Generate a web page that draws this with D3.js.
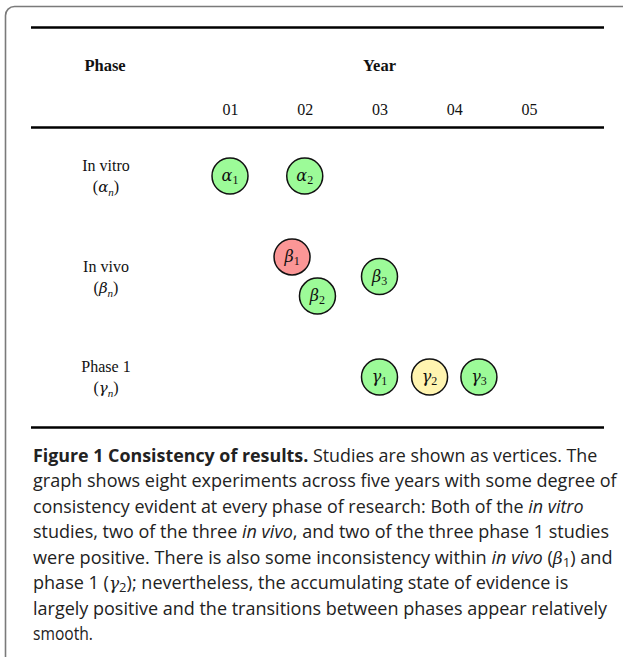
<!DOCTYPE html>
<html>
<head>
<meta charset="utf-8">
<script src="https://cdn.jsdelivr.net/npm/d3@7"></script>
<style>
  body { margin: 0; background: #fff; }
  svg text { fill: #111; }
  .serif { font-family: "Liberation Serif", "DejaVu Serif", serif; }
  .greek { font-family: "DejaVu Serif", "Liberation Serif", serif; font-style: italic; }
  .cap { font-family: "Open Sans", "Noto Sans", sans-serif; font-size: 18px; fill: #222; }
</style>
</head>
<body>
<svg id="fig" width="623" height="657"></svg>
<script>
// years along the top
const years = ["01", "02", "03", "04", "05"];

// phases of research (rows)
const phaseNames = ["In vitro", "In vivo", "Phase 1"];
const phaseSymbols = ["α", "β", "γ"];

// studies: phase row, index, year position, lane offset inside the row, outcome
const studyPhase = [0, 0, 1, 1, 1, 2, 2, 2];
const studyIndex = [1, 2, 1, 2, 3, 1, 2, 3];
const studyYear = [1, 2, 1.83, 2.17, 3, 3, 3.67, 4.33];
const studyLane = [0, 0, -0.2, 0.2, 0, 0, 0, 0];
const studyResult = ["pos", "pos", "neg", "pos", "pos", "pos", "mixed", "pos"];

const resultColor = { pos: "#9cfb98", neg: "#fb9696", mixed: "#fff4b0" };

// caption lines, each a list of [text, style] pieces
const captionLines = [
    [["Figure 1 Consistency of results.", "b"], [" Studies are shown as vertices. The", ""]],
    [["graph shows eight experiments across five years with some degree of", ""]],
    [["consistency evident at every phase of research: Both of the ", ""], ["in vitro", "i"]],
    [["studies, two of the three ", ""], ["in vivo", "i"], [", and two of the three phase 1 studies", ""]],
    [["were positive. There is also some inconsistency within ", ""], ["in vivo", "i"], [" (", ""], ["β", "gi"], ["1", "sub"], [") and", ""]],
    [["phase 1 (", ""], ["γ", "gi"], ["2", "sub"], ["); nevertheless, the accumulating state of evidence is", ""]],
    [["largely positive and the transitions between phases appear relatively", ""]],
    [["smooth.", ""]]
];
const captionWidths = [565, 584, 551, 576, 580, 536, 574, 60];

const svg = d3.select("#fig");

// panel border (runs off the right/bottom edge)
svg.append("rect")
    .attr("x", 5.5).attr("y", 6.5)
    .attr("width", 680).attr("height", 720)
    .attr("rx", 9)
    .attr("fill", "none")
    .attr("stroke", "#7a7a7a")
    .attr("stroke-width", 1.6);

const x = d3.scaleLinear().domain([1, 5]).range([230, 529]);
const y = d3.scalePoint().domain(d3.range(phaseNames.length)).range([176, 377]);
const lane = d3.scaleLinear().domain([-1, 1]).range([-98, 98]);

// horizontal rules
[27.5, 127.5, 427.5].forEach(yy => {
    svg.append("line")
        .attr("x1", 31).attr("x2", 604)
        .attr("y1", yy).attr("y2", yy)
        .attr("stroke", "#000")
        .attr("stroke-width", 2.4);
});

// header
svg.append("text").attr("class", "serif")
    .attr("x", 105).attr("y", 71)
    .attr("text-anchor", "middle")
    .style("font-size", "16.5px").style("font-weight", "bold")
    .text("Phase");
svg.append("text").attr("class", "serif")
    .attr("x", x(3)).attr("y", 71)
    .attr("text-anchor", "middle")
    .style("font-size", "16.5px").style("font-weight", "bold")
    .text("Year");

// year axis labels
const xAxis = d3.axisTop(x)
    .tickValues(d3.range(1, years.length + 1))
    .tickFormat(d => years[d - 1])
    .tickSize(0);
const ax = svg.append("g")
    .attr("transform", "translate(0,110)")
    .call(xAxis);
ax.select(".domain").remove();
ax.selectAll("text")
    .attr("class", "serif")
    .attr("y", 0).attr("dy", "0.33em")
    .style("font-size", "16px")
    .style("fill", "#111");

// row labels
const rows = svg.selectAll(".row")
    .data(phaseNames)
    .enter().append("g")
    .attr("class", "row serif")
    .attr("transform", (d, i) => "translate(106," + y(i) + ")");
rows.append("text")
    .attr("text-anchor", "middle")
    .attr("y", -5)
    .style("font-size", "16px")
    .text(d => d);
const sym = rows.append("text")
    .attr("text-anchor", "middle")
    .attr("y", 16)
    .style("font-size", "16px");
sym.append("tspan").text("(");
sym.append("tspan").attr("class", "greek").style("font-size", "15px").text((d, i) => phaseSymbols[i]);
sym.append("tspan").style("font-style", "italic").style("font-size", "11px")
    .attr("dy", 4).text("n");
sym.append("tspan").attr("dy", -4).text(")");

// study vertices
const studies = studyPhase.map((p, i) => ({
    phase: p, idx: studyIndex[i], year: studyYear[i], lane: studyLane[i], res: studyResult[i]
}));

const nodes = svg.selectAll(".node")
    .data(studies)
    .enter().append("g")
    .attr("class", "node serif")
    .attr("transform", d => "translate(" + x(d.year) + "," + (y(d.phase) + lane(d.lane)) + ")");
nodes.append("circle")
    .attr("r", 18)
    .attr("fill", d => resultColor[d.res])
    .attr("stroke", "#111")
    .attr("stroke-width", 1.5);
const lbl = nodes.append("text")
    .attr("text-anchor", "middle")
    .attr("y", 5)
    .style("font-size", "16px");
lbl.append("tspan").attr("class", "greek").text(d => phaseSymbols[d.phase]);
lbl.append("tspan").style("font-size", "12px").attr("dy", 3).text(d => d.idx);

// caption
captionLines.forEach((parts, li) => {
    const t = svg.append("text")
        .attr("class", "cap")
        .attr("x", 33)
        .attr("y", 462 + li * 25.5);
    parts.forEach(([s, st]) => {
        const sp = t.append("tspan").text(s);
        if (st === "b") sp.style("font-weight", "bold");
        if (st === "i") sp.style("font-style", "italic");
        if (st === "gi") sp.attr("class", "greek").style("font-size", "17px");
        if (st === "sub") sp.style("font-size", "13px").attr("baseline-shift", "-3");
    });
    const w = t.node().getComputedTextLength();
    const k = captionWidths[li] / w;
    t.attr("transform", "translate(33,0) scale(" + k + ",1) translate(-33,0)");
});
</script>
</body>
</html>
